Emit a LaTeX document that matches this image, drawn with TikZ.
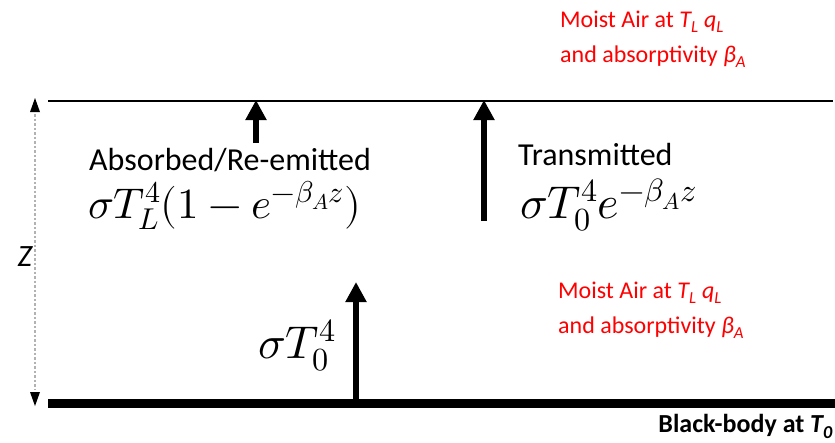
\documentclass[tikz,border=0pt]{standalone}
\usepackage{unicode-math}
\setmainfont{Carlito}
\setmathfont{Latin Modern Math}
\usetikzlibrary{arrows.meta}
\tikzset{
  flux/.style={line width=6.5pt,-{Triangle[width=20pt,length=20pt]}},
  redlbl/.style={text=red,font=\fontsize{24}{28}\selectfont,anchor=base west,inner sep=0pt},
  lbl/.style={font=\fontsize{32}{36}\selectfont,anchor=base west,inner sep=0pt},
  mth/.style={font=\fontsize{46}{50}\selectfont,anchor=base west,inner sep=0pt}
}
\begin{document}
\begin{tikzpicture}[x=1pt,y=-1pt]
\useasboundingbox (0,0) rectangle (835,442);
% layers
\coordinate (topL) at (48,101);
\coordinate (topR) at (833,101);
\coordinate (botL) at (48,403.5);
\coordinate (botR) at (835,403.5);
\draw[line width=1.5pt] (topL) -- (topR);
\draw[line width=9pt] (botL) -- (botR);
% Z dimension
\coordinate (zt) at (35,98);
\coordinate (zb) at (35,406);
\draw[gray!60,line width=2.5pt,dotted] (35,114) -- (35,390);
\fill (zt) -- (30,112) -- (40,112) -- cycle;
\fill (zb) -- (30,392) -- (40,392) -- cycle;
\node[font=\fontsize{31}{33}\selectfont\itshape,inner sep=0pt,anchor=center] (z) at (25,257) {Z};
% arrows
\coordinate (a1s) at (256,143);
\coordinate (a1e) at (256,100);
\coordinate (a2s) at (484,221);
\coordinate (a2e) at (484,100);
\coordinate (a3s) at (356,400);
\coordinate (a3e) at (356,282);
\draw[flux] (a1s) -- (a1e);
\draw[flux] (a2s) -- (a2e);
\draw[flux] (a3s) -- (a3e);
% labels
\node[lbl] (abs) at (89,170) {Absorbed/Re-emitted};
\node[mth,font=\fontsize{43}{48}\selectfont] (absm) at (88,218) {$\sigma T_L^4(1-e^{-\beta_{A} z})$};
\node[lbl] (tr) at (518,165) {Transmitted};
\node[mth] (trm) at (520,218) {$\sigma T_0^4 e^{-\beta_{A} z}$};
\node[mth] (s0) at (258,358) {$\sigma T_0^4$};
\node[redlbl] (r1a) at (560,27) {Moist Air at \textit{T\textsubscript{L} q\textsubscript{L}}};
\node[redlbl] (r1b) at (560,62) {and absorptivity \textit{β\textsubscript{A}}};
\node[redlbl] (r2a) at (558,298) {Moist Air at \textit{T\textsubscript{L} q\textsubscript{L}}};
\node[redlbl] (r2b) at (558,333) {and absorptivity \textit{β\textsubscript{A}}};
\node[font=\fontsize{26}{28}\selectfont\bfseries,anchor=base east,inner sep=0pt] (bb) at (833,432) {Black-body at \textit{T\textsubscript{0}}};
\end{tikzpicture}
\end{document}
